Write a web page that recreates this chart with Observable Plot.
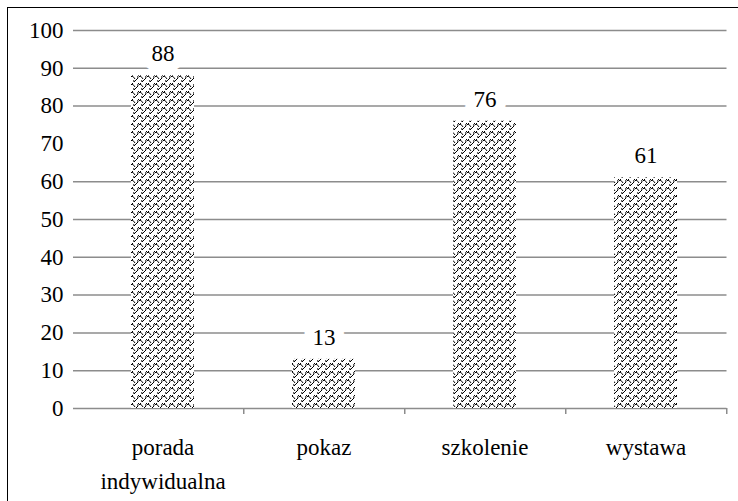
<!DOCTYPE html>
<html>
<head>
<meta charset="utf-8">
<script src="https://cdn.jsdelivr.net/npm/d3@7"></script>
<script src="https://cdn.jsdelivr.net/npm/@observablehq/plot@0.6"></script>
<style>
  html, body { margin: 0; padding: 0; background: #fff; }
  #wrap { position: relative; width: 738px; height: 501px; overflow: hidden; }
  #frame { position: absolute; left: 7px; top: 7px; width: 800px; height: 600px;
           border-left: 1.5px solid #000; border-top: 1.5px solid #000; pointer-events: none; }
  #wrap svg, #wrap svg g, #wrap svg text {
    font-family: "Liberation Serif", "Times New Roman", Times, Tinos, "DejaVu Serif", "Noto Serif", serif !important;
  }
</style>
</head>
<body>
<div id="wrap"><div id="frame"></div></div>
<script>
const categories = ["porada\nindywidualna", "pokaz", "szkolenie", "wystawa"];
const values = [88, 13, 76, 61];
const yTicks = [0, 10, 20, 30, 40, 50, 60, 70, 80, 90, 100];
const gridValues = [0, 10, 20, 30, 40, 50, 60, 80, 90, 100];

const data = categories.map((c, i) => ({category: c, value: values[i]}));

const W = 738, H = 501;
const xLeft = 80.5, xRight = 726.5;
const step = (xRight - xLeft) / categories.length;
const FS = 23;
const SERIF = '"Liberation Serif", "Times New Roman", Times, Tinos, "DejaVu Serif", serif';

const chart = Plot.plot({
  width: W,
  height: H,
  marginLeft: 73,
  marginRight: 11.5,
  marginTop: 30,
  marginBottom: 93,
  style: {fontSize: FS + "px", fontFamily: SERIF, color: "#000", background: "transparent"},
  x: {domain: categories, range: [xLeft, xRight], paddingInner: 0.61, paddingOuter: 0.305, label: null},
  y: {domain: [0, 100], label: null},
  marks: [
    () => {
      const ns = "http://www.w3.org/2000/svg";
      const g = document.createElementNS(ns, "defs");
      g.innerHTML = `<pattern id="hatch" patternUnits="userSpaceOnUse" width="8" height="8">
        <rect width="8" height="8" fill="#fff"/>
        <path d="M0,8 L2,6 M3,5 L5,3 M6,2 L8,0 M2,6 Q1,4 3,3 M6,2 Q5,0 7,-1 M4,4 Q6,5 7,7" stroke="#000" stroke-width="1" fill="none"/>
      </pattern>`;
      return g;
    },
    Plot.ruleY(gridValues, {y: d => d, stroke: "#8c8c8c", strokeWidth: 1.5}),
    Plot.barY(data, {x: "category", y: "value", fill: "url(#hatch)"}),
    Plot.ruleX(categories, {x: d => d, dx: step / 2, y1: 0, y2: -1.6, stroke: "#8c8c8c", strokeWidth: 1.5}),
    Plot.text(data, {x: "category", y: "value", text: d => String(d.value), dy: -22,
      fill: "#000", stroke: "#fff", strokeWidth: 20, strokeLinejoin: "miter", fontSize: FS, fontFamily: SERIF}),
    Plot.axisY(yTicks, {tickSize: 0, tickPadding: 10, fontSize: FS, fontFamily: SERIF, fill: "#000"}),
    Plot.axisX({tickSize: 0, tickPadding: 22, fontSize: FS, fontFamily: SERIF, lineHeight: 1.48, fill: "#000"})
  ]
});
document.getElementById("wrap").insertBefore(chart, document.getElementById("frame"));
</script>
</body>
</html>
